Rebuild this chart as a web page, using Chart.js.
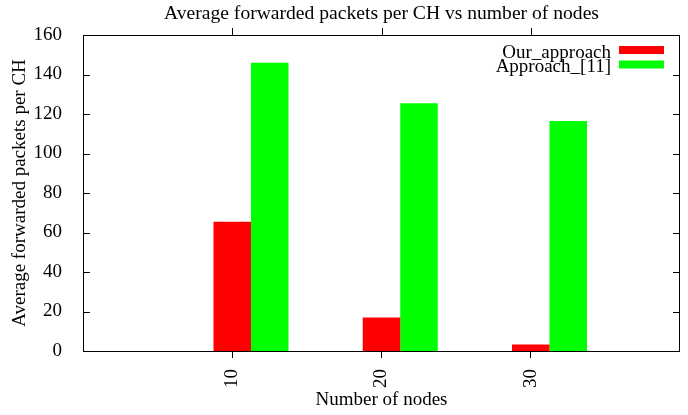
<!DOCTYPE html>
<html><head><meta charset="utf-8">
<script src="https://cdn.jsdelivr.net/npm/chart.js@4/dist/chart.umd.min.js"></script>
<style>html,body{margin:0;padding:0;background:#fff}</style>
</head><body>
<canvas id="c" width="688" height="415"></canvas>
<script>
// ---- data ----
const titleText = 'Average forwarded packets per CH vs number of nodes';
const xTitle = 'Number of nodes';
const yTitle = 'Average forwarded packets per CH';
const nodeCounts = ['10', '20', '30'];
const seriesNames = ['Our_approach', 'Approach_[11]'];
const ourApproach = [65.5, 17, 3.3];
const approach11 = [146, 125.5, 116.5];
const yMin = 0, yMax = 160, yStep = 20;

// ---- build ----
const FONT = 'Liberation Serif';
const FS = 19;
const labels = ['', ...nodeCounts, ''];
const pad = arr => [null, ...arr, null];

const framePlugin = {
  id: 'frame',
  afterDatasetsDraw(chart) {
    const {ctx, chartArea: {left, right, top, bottom}, scales: {x, y}} = chart;
    ctx.save();
    ctx.strokeStyle = '#000';
    ctx.lineWidth = 1;
    ctx.beginPath();
    y.ticks.forEach((t, i) => {
      const py = Math.round(y.getPixelForTick(i)) + 0.5;
      ctx.moveTo(left, py); ctx.lineTo(left + 7, py);
      ctx.moveTo(right - 7, py); ctx.lineTo(right, py);
    });
    x.ticks.forEach((t, i) => {
      if (!labels[t.value]) return;
      const px = Math.round(x.getPixelForTick(i)) + 0.5;
      ctx.moveTo(px, top - 7); ctx.lineTo(px, top);
    });
    ctx.stroke();
    ctx.strokeRect(left + 0.5, top + 0.5, right - left - 1, bottom - top);
    ctx.restore();
  }
};

const textPlugin = {
  id: 'gpText',
  afterDraw(chart) {
    const {ctx, chartArea: {left, right, top}} = chart;
    ctx.save();
    // title centred over plot area
    ctx.fillStyle = '#000';
    ctx.font = '19.6px "' + FONT + '"';
    ctx.textAlign = 'center';
    ctx.textBaseline = 'alphabetic';
    ctx.fillText(titleText, (left + right) / 2, 19);
    // legend (key) top-right, text right-justified, sample box on the right
    ctx.font = FS + 'px "' + FONT + '"';
    ctx.textAlign = 'right';
    const items = chart.data.datasets.filter(d => d.label);
    items.forEach((d, i) => {
      const rowTop = top + 11 + i * 14.5;
      ctx.fillStyle = '#000';
      ctx.fillText(d.label, right - 69, rowTop + 11.7);
      ctx.fillStyle = d.backgroundColor;
      ctx.fillRect(right - 61, rowTop, 45, 8);
    });
    ctx.restore();
  }
};

new Chart(document.getElementById('c'), {
  type: 'bar',
  data: {
    labels: labels,
    datasets: [
      {label: '', data: labels.map(() => null), backgroundColor: 'rgba(0,0,0,0)'},
      {label: seriesNames[0], data: pad(ourApproach), backgroundColor: '#ff0000'},
      {label: seriesNames[1], data: pad(approach11), backgroundColor: '#00ff00'}
    ]
  },
  options: {
    responsive: false,
    animation: false,
    devicePixelRatio: 1,
    barPercentage: 1,
    categoryPercentage: 0.7538,
    layout: {padding: {left: 0, right: 8, top: 35, bottom: 0}},
    plugins: {
      legend: {display: false},
      tooltip: {enabled: false},
      title: {display: false}
    },
    scales: {
      x: {
        type: 'category',
        offset: false,
        border: {display: false},
        grid: {
          display: true, offset: false, drawOnChartArea: false, drawTicks: true, tickLength: 7,
          tickColor: c => (c.tick && c.tick.label) ? '#000' : 'rgba(0,0,0,0)'
        },
        ticks: {
          autoSkip: false, maxRotation: 90, minRotation: 90, padding: 11, color: '#000',
          font: {family: FONT, size: FS}
        },
        title: {
          display: true, text: xTitle, color: '#000',
          font: {family: FONT, size: FS, lineHeight: 1},
          padding: {top: 0, bottom: 5}
        },
        afterFit(s) { s.height = 64; s.paddingLeft = 0; s.paddingRight = 0; }
      },
      y: {
        min: yMin, max: yMax,
        border: {display: false},
        grid: {display: false, drawTicks: false},
        ticks: {stepSize: yStep, padding: 21, color: '#000', font: {family: FONT, size: FS}},
        title: {
          display: true, text: yTitle, color: '#000',
          font: {family: FONT, size: FS, lineHeight: 1},
          padding: {top: 11}
        },
        afterFit(s) { s.width = 83; s.paddingTop = 0; s.paddingBottom = 0; }
      }
    }
  },
  plugins: [framePlugin, textPlugin]
});
</script>
</body></html>
